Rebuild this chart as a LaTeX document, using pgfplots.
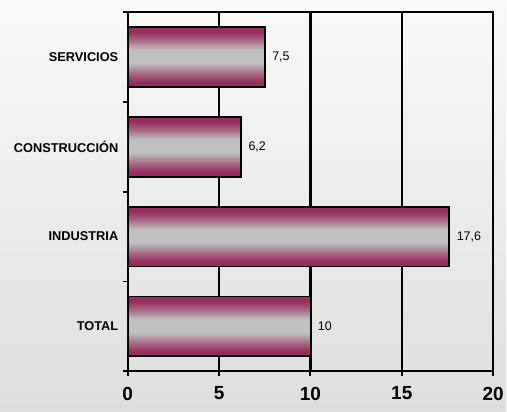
\documentclass[border=0pt]{standalone}
\usepackage{pgfplots}
\pgfplotsset{compat=1.18}
\usepackage{fontspec}
\setmainfont{Liberation Sans}
\definecolor{barp}{RGB}{150,45,95}
\definecolor{barg}{RGB}{192,192,192}
\definecolor{bgtop}{RGB}{249,249,249}
\definecolor{bgbot}{RGB}{222,222,222}
\pgfdeclareverticalshading{barshade}{100bp}{color(0bp)=(barp); color(29bp)=(barp); color(36bp)=(barp!60!barg); color(45bp)=(barg); color(56bp)=(barg); color(64bp)=(barp!60!barg); color(71bp)=(barp); color(100bp)=(barp)}
\begin{document}
\begin{tikzpicture}
\shade[bottom color=bgbot, top color=bgtop] (0pt,0pt) rectangle (507pt,412pt);
\begin{axis}[
  at={(128pt,40pt)}, anchor=south west,
  scale only axis, width=366pt, height=360pt,
  xbar, bar shift=0pt, bar width=0.667,
  xmin=0, xmax=20, ymin=-0.5, ymax=3.5,
  xtick={0,5,10,15,20},
  ytick={-0.5,0.5,1.5,2.5,3.5},
  yticklabels={},
  extra y ticks={0,1,2,3},
  extra y tick labels={TOTAL,INDUSTRIA,CONSTRUCCIÓN,SERVICIOS},
  extra y tick style={ytick style={draw=none}},
  xtick pos=left, ytick pos=left,
  tick align=outside,
  major tick length=5pt,
  tick style={draw=black, line width=2pt},
  xmajorgrids,
  grid style={black, line width=2.2pt},
  axis line style={black, line width=2pt},
  /pgf/number format/.cd, use comma, 1000 sep={}, assume math mode=true, /pgfplots/.cd,
  xticklabel style={font=\bfseries\fontsize{19}{19}\selectfont, yshift=-7pt},
  yticklabel style={font=\bfseries\fontsize{12.8}{13}\selectfont, xshift=-1pt},
]
\addplot[draw=black, line width=1.8pt, shade, shading=barshade] coordinates {(10,0)};
\addplot[draw=black, line width=1.8pt, shade, shading=barshade] coordinates {(17.6,1)};
\addplot[draw=black, line width=1.8pt, shade, shading=barshade] coordinates {(6.2,2)};
\addplot[draw=black, line width=1.8pt, shade, shading=barshade] coordinates {(7.5,3)};
\addplot[draw=none, fill=none, nodes near coords,
  nodes near coords style={anchor=west, xshift=4pt, text=black, font=\fontsize{12.5}{12.5}\selectfont}]
  coordinates {(10,0) (17.6,1) (6.2,2) (7.5,3)};
\end{axis}
\end{tikzpicture}
\end{document}
